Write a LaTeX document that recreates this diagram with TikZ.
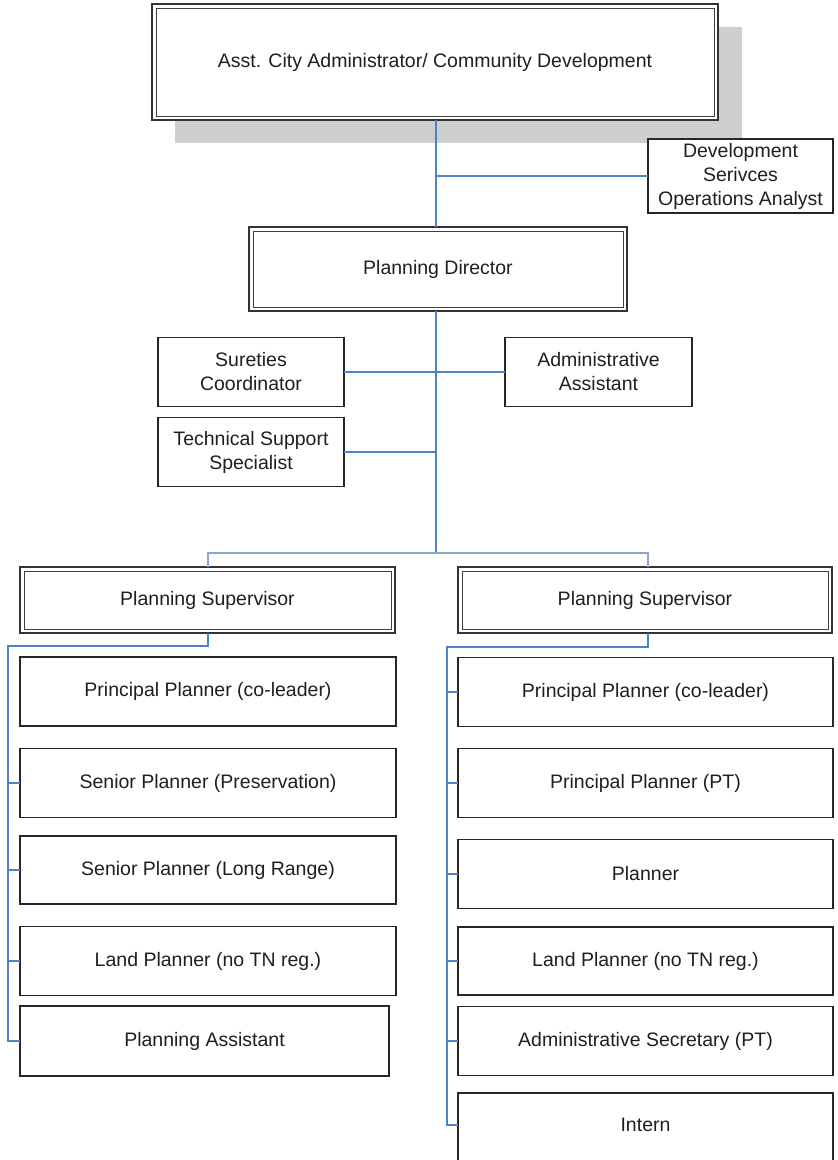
\documentclass[tikz,border=0pt]{standalone}
\usepackage{fontspec}
\setmainfont{Liberation Sans}
\definecolor{connblue}{RGB}{79,129,196}
\definecolor{connlight}{RGB}{140,166,204}
\definecolor{shadowgray}{RGB}{207,207,207}
\begin{document}
\begin{tikzpicture}[x=1pt,y=-1pt,
  every node/.style={font=\fontsize{19.5}{24}\selectfont, text=black!88, inner sep=0pt, outer sep=0pt, align=center},
  plainbox/.style={draw=black!85, fill=white, line width=1.3pt, rectangle},
  dblbox/.style={draw=black!80, fill=white, line width=2.2pt, rectangle},
  innerline/.style={draw=black!75, line width=1pt},
  conn/.style={draw=connblue, line width=1.8pt},
  connthick/.style={draw=connblue, line width=2.2pt},
  connmid/.style={draw=connlight, line width=1.8pt}]
\useasboundingbox (0,0) rectangle (838,1160);
\fill[white] (0,0) rectangle (838,1160);
% shadow of top box
\fill[shadowgray] (175,27) rectangle (742,143);
% coordinates
\coordinate (sp) at (436,0);
\coordinate (hl) at (208,553);
\coordinate (hr) at (648,553);
\coordinate (lb) at (8,646);
\coordinate (rb) at (447,647);
% nodes
\node[dblbox, minimum width=566, minimum height=116] (top) at (435,62) {Asst. City Administrator/ Community Development};
\node[plainbox, minimum width=185, minimum height=74] (dev) at (740.5,176) {Development\\Serivces\\Operations Analyst};
\node[dblbox, minimum width=378, minimum height=84] (dir) at (438,269) {Planning Director};
\node[plainbox, minimum width=186, minimum height=69] (sur) at (251,372) {Sureties\\Coordinator};
\node[plainbox, minimum width=187, minimum height=69] (adm) at (598.5,372) {Administrative\\Assistant};
\node[plainbox, minimum width=186, minimum height=69] (tech) at (251,452) {Technical Support\\Specialist};
\node[dblbox, minimum width=375, minimum height=66] (supL) at (207.5,600) {Planning Supervisor};
\node[dblbox, minimum width=374, minimum height=66] (supR) at (645,600) {Planning Supervisor};
\foreach \n in {top,dir,supL,supR}
  \draw[innerline] ([shift={(4,4)}]\n.north west) rectangle ([shift={(-4,-4)}]\n.south east);
% left column
\node[plainbox, minimum width=376, minimum height=69] (L1) at (208,691.5) {Principal Planner (co-leader)};
\node[plainbox, minimum width=376, minimum height=69] (L2) at (208,783) {Senior Planner (Preservation)};
\node[plainbox, minimum width=376, minimum height=68] (L3) at (208,870) {Senior Planner (Long Range)};
\node[plainbox, minimum width=376, minimum height=69] (L4) at (208,961) {Land Planner (no TN reg.)};
\node[plainbox, minimum width=369, minimum height=70] (L5) at (204.5,1041) {Planning Assistant};
% right column
\node[plainbox, minimum width=375, minimum height=69] (R1) at (645.5,692) {Principal Planner (co-leader)};
\node[plainbox, minimum width=375, minimum height=69] (R2) at (645.5,783) {Principal Planner (PT)};
\node[plainbox, minimum width=375, minimum height=69] (R3) at (645.5,874) {Planner};
\node[plainbox, minimum width=375, minimum height=68] (R4) at (645.5,961) {Land Planner (no TN reg.)};
\node[plainbox, minimum width=375, minimum height=69] (R5) at (645.5,1041) {Administrative Secretary (PT)};
\node[plainbox, minimum width=375, minimum height=74] (R6) at (645.5,1130) {};
\node (R6t) at (645.5,1125) {Intern};
% connectors
\draw[conn] (top.south -| sp) -- (dir.north -| sp);
\draw[conn] (dev.west) -- (dev.west -| sp);
\draw[conn] (dir.south -| sp) -- (sp |- hl);
\draw[conn] (sur.east) -- (adm.west);
\draw[conn] (tech.east) -- (tech.east -| sp);
\draw[connmid] (supL.north -| hl) -- (hl) -- (hr) -- (supR.north -| hr);
% left subordinates
\draw[connthick] (supL.south -| hl) -- (hl |- lb) -- (lb) -- (lb |- L5.west) -- (L5.west);
\draw[conn] (L2.west) -- (L2.west -| lb);
\draw[conn] (L3.west) -- (L3.west -| lb);
\draw[conn] (L4.west) -- (L4.west -| lb);
% right subordinates
\draw[connthick] (supR.south -| hr) -- (hr |- rb) -- (rb) -- (rb |- R6t.west) -- (R6t.west -| R6.west);
\draw[conn] (R1.west) -- (R1.west -| rb);
\draw[conn] (R2.west) -- (R2.west -| rb);
\draw[conn] (R3.west) -- (R3.west -| rb);
\draw[conn] (R4.west) -- (R4.west -| rb);
\draw[conn] (R5.west) -- (R5.west -| rb);
\end{tikzpicture}
\end{document}
